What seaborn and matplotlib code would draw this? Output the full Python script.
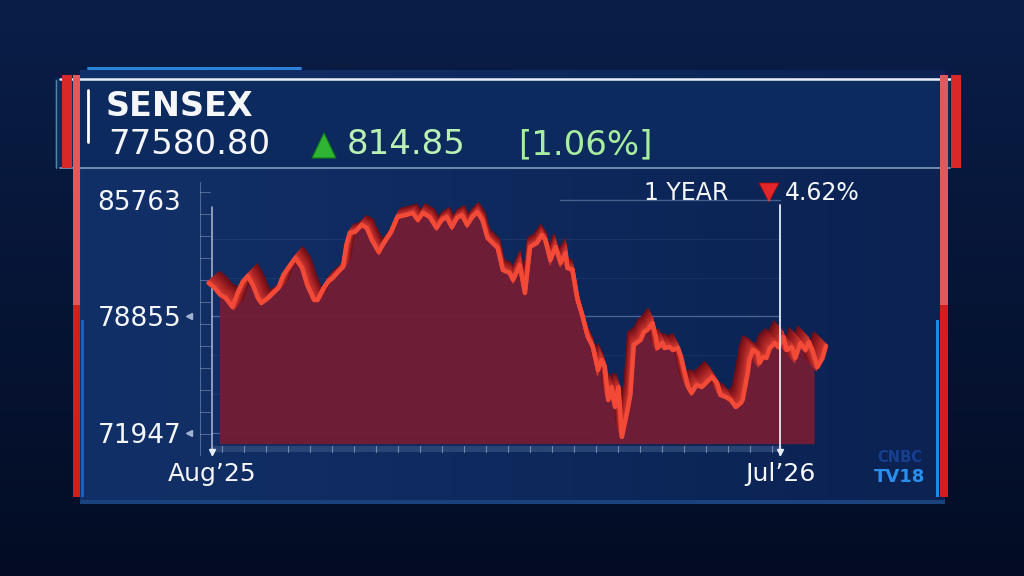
import numpy as np
import pandas as pd
import matplotlib
matplotlib.use("Agg")
import matplotlib.pyplot as plt
import matplotlib.dates as mdates
from matplotlib.transforms import Affine2D
from matplotlib.patches import Rectangle, Polygon
import seaborn as sns

# ---------------- data ----------------
index_name = "SENSEX"
last_value = "77580.80"
change_abs = "814.85"
change_pct = "[1.06%]"
period_label = "1 YEAR"
period_change = "4.62%"
start_date = "2025-08-01"
day_offsets = [-2, 1, 5, 8, 12, 15, 18, 21, 24, 27, 29, 33, 36, 39, 42, 46, 49, 53, 56, 60,
               62, 65, 68, 71, 74, 77, 79, 81, 84, 88, 91, 94, 98, 101, 105, 107, 109, 114, 118, 121,
               124, 128, 132, 135, 138, 141, 144, 147, 150, 153, 156, 159, 162, 165, 168, 171, 175, 177, 181, 184,
               187, 191, 194, 196, 199, 202, 205, 208, 209, 212, 215, 218, 221, 224, 227, 229, 231, 233, 235, 237,
               239, 241, 244, 246, 248, 252, 254, 256, 259, 261, 262, 265, 266, 269, 271, 274, 276, 278, 280, 282,
               285, 288, 291, 294, 297, 299, 302, 305, 308, 311, 312, 315, 316, 318, 321, 322, 324, 326, 328, 331,
               333, 336, 338, 341, 343, 346, 349, 351, 353, 356, 359, 361]
sensex = [80841, 80604, 80129, 79952, 79418, 80248, 80900, 81256, 80722, 79952, 79655, 79952, 80248, 80545, 81315, 81908, 82324, 81731, 80722, 79833,
          79833, 80426, 80900, 81138, 81493, 81790, 83094, 83806, 83865, 84280, 84103, 83391, 82679, 83213, 83806, 84280, 84755, 84873, 84992, 84577,
          84992, 84755, 84103, 84577, 84755, 84162, 84696, 84873, 84280, 84755, 85051, 84577, 83510, 83213, 82917, 81612, 81434, 81019, 81908, 80248,
          82976, 83213, 83687, 83391, 82205, 82976, 82027, 82620, 81731, 81612, 79833, 78825, 77639, 77046, 75682, 76275, 75860, 73903, 74674, 73488,
          74674, 71709, 73132, 74199, 77164, 77461, 77935, 78054, 78469, 77639, 76987, 77283, 76987, 77046, 76868, 76987, 76394, 75504, 74674, 74318,
          74792, 74674, 74970, 75267, 74911, 74199, 74081, 73903, 73488, 73725, 73903, 75504, 76275, 76868, 76690, 76097, 76453, 76394, 76987, 77283,
          77046, 77639, 76868, 77046, 76394, 77283, 76868, 77342, 76868, 75860, 76394, 77105]
y_ticks = [71947, 78855, 85763]
x_tick_dates = ["2025-08-01", "2026-07-01"]
x_tick_labels = ["Aug\u201925", "Jul\u201926"]

dates = pd.Timestamp(start_date) + pd.to_timedelta(day_offsets, unit="D")
df = pd.DataFrame({"date": dates, "value": sensex})

# ---------------- figure ----------------
sns.set_theme(style="dark")
plt.rcParams["font.family"] = ["DejaVu Sans"]
W, H = 1024, 576
fig = plt.figure(figsize=(W / 100, H / 100), dpi=100)
fig.patch.set_facecolor("#061437")

bg = fig.add_axes([0, 0, 1, 1])
bg.set_xlim(0, W)
bg.set_ylim(H, 0)
bg.axis("off")

# outer background gradient
grad = np.linspace(0, 1, 256)[:, None]
top = np.array([10, 30, 72]) / 255
bot = np.array([3, 12, 36]) / 255
img = top[None, None, :] * (1 - grad[..., None]) + bot[None, None, :] * grad[..., None]
bg.imshow(img, extent=[0, W, H, 0], aspect="auto", zorder=0)

# main panel with horizontal gradient
px = np.linspace(0, 1, 256)[None, :]
lft = np.array([18, 48, 104]) / 255
rgt = np.array([11, 34, 82]) / 255
pimg = lft[None, None, :] * (1 - px[..., None]) + rgt[None, None, :] * px[..., None]
pimg = np.repeat(pimg, 4, axis=0)
bg.imshow(pimg, extent=[80, 945, 500, 70], aspect="auto", zorder=1)
bg.add_patch(Rectangle((80, 500), 865, 4, color="#2d6fc4", alpha=0.55, zorder=2, lw=0))
bg.plot([88, 300], [68, 68], color="#2f8fe8", lw=2.2, alpha=0.9, zorder=2)

# header box
bg.add_patch(Rectangle((55, 78), 895, 90, facecolor="#0c2a5e", edgecolor="none", zorder=2))
bg.plot([60, 950], [79, 79], color="#e8eef8", lw=1.8, zorder=3)
bg.plot([60, 950], [168, 168], color="#9fb6d8", lw=1.2, alpha=0.8, zorder=3)
bg.plot([56, 56], [80, 168], color="#9fb6d8", lw=1.0, alpha=0.6, zorder=3)
bg.plot([88, 88], [90, 142], color="#ffffff", lw=2.0, zorder=3)

# red side bars
bg.add_patch(Rectangle((62, 75), 10, 93, color="#d82828", zorder=4, lw=0))
bg.add_patch(Rectangle((951, 75), 10, 93, color="#d82828", zorder=4, lw=0))
bg.add_patch(Rectangle((73, 75), 7, 230, color="#e05a5c", zorder=4, lw=0))
bg.add_patch(Rectangle((73, 305), 7, 192, color="#d41e1e", zorder=4, lw=0))
bg.add_patch(Rectangle((940, 75), 8, 230, color="#e05a5c", zorder=4, lw=0))
bg.add_patch(Rectangle((940, 305), 8, 192, color="#d41e1e", zorder=4, lw=0))
bg.add_patch(Rectangle((81, 320), 3, 177, color="#1f6fd0", zorder=4, lw=0, alpha=0.8))
bg.add_patch(Rectangle((936, 320), 3, 177, color="#1f8ae8", zorder=4, lw=0))

# header text
bg.text(106, 107, index_name, fontsize=24, fontweight="bold", color="#f4f6fa",
        va="center", ha="left", zorder=5)
bg.text(108, 145, last_value, fontsize=24.5, color="#f4f6fa", va="center", ha="left", zorder=5)
bg.add_patch(Polygon([[312, 158], [324, 133], [336, 158]], closed=True,
                     facecolor="#2fb533", edgecolor="#147a1c", lw=0.8, zorder=5))
bg.text(347, 145, change_abs, fontsize=24.5, color="#b9f0b4", va="center", ha="left", zorder=5)
bg.text(518, 145, change_pct, fontsize=24.5, color="#a8eea0", va="center", ha="left", zorder=5)

# period change
bg.text(644, 193, period_label, fontsize=17, color="#f4f6fa", va="center", ha="left", zorder=5)
bg.add_patch(Polygon([[759, 183], [779, 183], [769, 202]], closed=True,
                     facecolor="#e3262a", edgecolor="#a01010", lw=0.6, zorder=5))
bg.text(785, 193, period_change, fontsize=17, color="#f4f6fa", va="center", ha="left", zorder=5)

# ruler at left of chart & bottom strip
bg.plot([200, 200], [182, 455], color="#8aa2c8", lw=0.8, alpha=0.5, zorder=3)
for yy in np.arange(192, 452, 22):
    bg.plot([200, 210], [yy, yy], color="#8aa2c8", lw=0.8, alpha=0.5, zorder=3)
bg.add_patch(Rectangle((212, 446), 570, 6, color="#33507e", alpha=0.7, zorder=3, lw=0))
for xx in np.arange(222, 782, 22):
    bg.plot([xx, xx], [446, 452], color="#a8bcd8", lw=0.8, alpha=0.6, zorder=3)

# logo
bg.text(900, 458, "CNBC", fontsize=10.5, fontweight="bold", color="#16408f", ha="center", va="center", zorder=5)
bg.text(900, 477, "TV18", fontsize=13, fontweight="bold", color="#2a8fec", ha="center", va="center", zorder=5)

# ---------------- chart axes ----------------
ax_l, ax_r, ax_t, ax_b = 205, 835, 180, 448
ax = fig.add_axes([ax_l / W, (H - ax_b) / H, (ax_r - ax_l) / W, (ax_b - ax_t) / H])
ax.set_facecolor("none")
for s in ax.spines.values():
    s.set_visible(False)
ax.grid(False)

t0 = pd.Timestamp(start_date)
ax.set_xlim(mdates.date2num(t0 - pd.Timedelta(days=4.1)), mdates.date2num(t0 + pd.Timedelta(days=366.3)))
ax.set_ylim(71057, 86949)

# grid lines
ax.axhline(y_ticks[0], xmin=0.011, xmax=0.913, color="#8aa4cc", lw=1.0, alpha=0.45, zorder=0.5)
ax.axhline(y_ticks[1], xmin=0.011, xmax=0.913, color="#8aa4cc", lw=1.0, alpha=0.45, zorder=0.5)
ax.axhline(y_ticks[2], xmin=0.563, xmax=0.913, color="#8aa4cc", lw=1.0, alpha=0.45, zorder=0.5)
for v in np.linspace(y_ticks[0], y_ticks[2], 7)[1:-1]:
    ax.axhline(v, xmin=0.011, xmax=0.913, color="#8aa4cc", lw=0.6, alpha=0.12, zorder=0.4)

# perspective transform for back edge of ribbon
cx, cy = 505, H - 20


def persp(s):
    return ax.transData + Affine2D().translate(-cx, -cy).scale(s).translate(cx, cy)


s_back = 0.963
fill = ax.fill_between(df["date"], df["value"], 70346, color="#731d36", alpha=0.96, lw=0, zorder=1)
fill.set_transform(persp(s_back))
fill.set_clip_on(False)

ribbon_cols = sns.blend_palette(["#6a0e16", "#9c1e22", "#c8362f"], 16)
for k, sk in enumerate(np.linspace(s_back, 0.998, 16)):
    ln, = ax.plot(df["date"], df["value"], color=ribbon_cols[k], lw=3.0, zorder=2,
                  solid_joinstyle="miter")
    ln.set_transform(persp(sk))
    ln.set_clip_on(False)

sns.lineplot(data=df, x="date", y="value", ax=ax, color="#f34a38", lw=3.2, zorder=3,
             estimator=None, sort=False)
for l in ax.lines[-1:]:
    l.set_clip_on(False)

# Jul'26 marker line
jul = mdates.date2num(pd.Timestamp(x_tick_dates[1]))
ax.axvline(jul, ymin=-0.026, ymax=0.907, color="#e6ecf6", lw=1.3, zorder=4, clip_on=False)
ax.plot([jul], [70830], marker="v", color="#e6ecf6", ms=5, clip_on=False, zorder=4)
aug = mdates.date2num(pd.Timestamp(x_tick_dates[0]))
ax.axvline(aug, ymin=-0.026, ymax=0.90, color="#dfe6f2", lw=1.2, alpha=0.7, zorder=0.6, clip_on=False)
ax.plot([aug], [70830], marker="v", color="#e6ecf6", ms=5, clip_on=False, zorder=4)

# y-tick markers
ax.plot([-0.025, -0.025], y_ticks[:2], ls="none", marker="<", color="#9fb2cf", ms=5,
        transform=ax.get_yaxis_transform(), clip_on=False)

ax.set_yticks(y_ticks)
ax.set_yticklabels([str(v) for v in y_ticks])
ax.set_xticks([mdates.date2num(pd.Timestamp(d)) for d in x_tick_dates])
ax.set_xticklabels(x_tick_labels)
ax.tick_params(axis="y", length=0, pad=17, labelsize=19, labelcolor="#f4f6fa")
ax.tick_params(axis="x", length=0, pad=10, labelsize=18, labelcolor="#f4f6fa")
ax.set_xlabel("")
ax.set_ylabel("")

fig.savefig("out.png", dpi=100, facecolor=fig.get_facecolor())
